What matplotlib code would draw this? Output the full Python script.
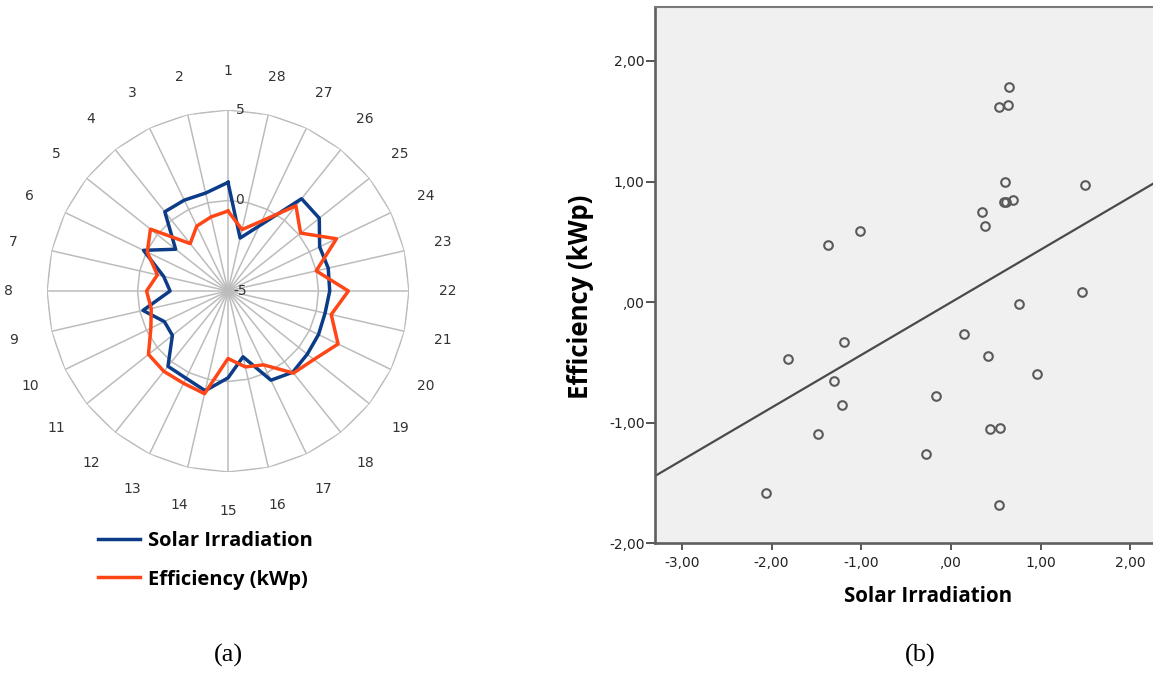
"""Daily solar irradiation vs. PV efficiency: radar profile and scatter with fit."""

import matplotlib.pyplot as plt
import numpy as np
from matplotlib.ticker import FuncFormatter

# Standardised daily values, one per day of the month (radar panel)
days = list(range(1, 29))
solar_irradiation = [
    1.00, 0.55, 0.57, 0.60, -1.30, 0.18, -1.35, -1.80, -0.18, -1.10,
    -1.07, 0.32, 0.35, 0.65, -0.20, -1.27, 0.47, 0.74, 0.60, 0.55,
    0.50, 0.62, 0.68, 0.62, 1.45, 1.52, -1.00, -2.00,
]
efficiency = [
    -0.58, -0.80, -1.02, -1.65, 0.48, -0.05, -1.00, -0.50, -0.65, -0.27,
    0.62, 0.68, 0.66, 0.82, -1.27, -0.70, -0.47, 0.80, 1.07, 1.75,
    0.85, 1.65, 0.00, 1.65, 0.13, 1.02, -0.71, -1.52,
]
radar_rings = [-5, 0, 5]

# Z-scores used in the scatter panel
scatter_irradiation = [
    0.648, 0.530, 0.636, 0.606, 1.499, 0.594, 0.615, 0.686, 0.349, 0.374,
    -1.366, -1.020, 1.457, 0.754, 0.142, -1.813, -1.189, 0.416, 0.960, -1.307,
    -0.165, -1.210, -1.488, 0.438, 0.542, -0.280, -2.061, 0.538,
]
scatter_efficiency = [
    1.783, 1.617, 1.633, 0.997, 0.969, 0.831, 0.831, 0.848, 0.751, 0.635,
    0.471, 0.591, 0.085, -0.018, -0.261, -0.472, -0.330, -0.450, -0.599, -0.654,
    -0.776, -0.853, -1.094, -1.052, -1.044, -1.260, -1.584, -1.683,
]
x_ticks = [-3, -2, -1, 0, 1, 2]
y_ticks = [-2, -1, 0, 1, 2]

BLUE = "#0c3c88"
ORANGE = "#ff4616"
GRID = "#bcbcbc"
BOLD = {"family": "Open Sans", "weight": "bold"}

plt.rcParams["font.family"] = ["DejaVu Sans"]


def comma_decimal(value, _pos=None):
    text = f"{value:.2f}".replace(".", ",")
    if text in ("0,00", "-0,00"):
        return ",00"
    return text


W, H = 1153, 674
fig = plt.figure(figsize=(W / 100, H / 100), dpi=100)

# --- radar panel -----------------------------------------------------------
radar = fig.add_axes([47 / W, 1 - 472 / H, 362 / W, 362 / H], projection="polar")
radar.set_theta_offset(np.pi / 2)
radar.set_ylim(radar_rings[0], radar_rings[-1])
radar.grid(False)
radar.spines["polar"].set_visible(False)
radar.set_xticks([])
radar.set_yticks([])

angles = np.arange(len(days)) * 2 * np.pi / len(days)
closed = np.append(angles, angles[0])
for ring in radar_rings[1:]:
    radar.plot(closed, [ring] * len(closed), color=GRID, lw=1.1, zorder=1)
for angle in angles:
    radar.plot([angle, angle], [radar_rings[0], radar_rings[-1]], color=GRID, lw=1.1, zorder=1)

(solar_line,) = radar.plot(closed, np.append(solar_irradiation, solar_irradiation[0]),
                           color=BLUE, lw=2.5, zorder=3)
(eff_line,) = radar.plot(closed, np.append(efficiency, efficiency[0]),
                         color=ORANGE, lw=2.5, zorder=4)

for angle, day in zip(angles, days):
    radar.text(angle, 7.15, str(day), ha="center", va="center", fontsize=10, color="#333333")
for ring in radar_rings:
    radar.annotate(str(ring), (0, ring), xytext=(8.6, 0), textcoords="offset points",
                   ha="center", va="center", fontsize=10, color="#333333", zorder=5)

fig.legend([solar_line, eff_line], ["Solar Irradiation", "Efficiency (kWp)"],
           loc="upper left", bbox_to_anchor=(98 / W, 1 - 531 / H), frameon=False,
           prop={**BOLD, "size": 14.5}, handlelength=2.1, handletextpad=0.4,
           labelspacing=0.92, borderpad=0, borderaxespad=0)

# --- scatter panel ---------------------------------------------------------
x_left, x_right = -3.30, 2.33
ax = fig.add_axes([655 / W, 1 - 543.3 / H, (1160 - 655) / W, (543.3 - 7.3) / H])
ax.set_facecolor("#f0f0f0")
ax.plot(scatter_irradiation, scatter_efficiency, "o", mfc="none", mec="#5a5a5a",
        ms=6.2, mew=1.5, zorder=3)

slope, intercept = np.polyfit(scatter_irradiation, scatter_efficiency, 1)
fit_x = np.array([x_left, x_right])
ax.plot(fit_x, slope * fit_x + intercept, color="#4a4a4a", lw=1.6, zorder=2)

ax.set_xlim(x_left, x_right)
ax.set_ylim(-2.0, 2.445)
ax.set_xticks(x_ticks)
ax.set_yticks(y_ticks)
ax.xaxis.set_major_formatter(FuncFormatter(comma_decimal))
ax.yaxis.set_major_formatter(FuncFormatter(comma_decimal))
ax.tick_params(axis="y", length=6.5, width=1.4, pad=1, color="#555555",
               labelsize=10, labelcolor="#222222")
ax.tick_params(axis="x", length=5, width=1.4, pad=4, color="#555555",
               labelsize=10, labelcolor="#222222")
for side in ("left", "bottom"):
    ax.spines[side].set_color("#5f5f5f")
    ax.spines[side].set_linewidth(1.9)
ax.spines["top"].set_color("#7a7a7a")
ax.spines["top"].set_linewidth(1.5)
ax.spines["right"].set_visible(False)

ax.set_xlabel("Solar Irradiation", fontsize=14.8, **BOLD)
ax.xaxis.set_label_coords((928 - 655) / 505, (543.3 - 586) / 536)
ax.set_ylabel("Efficiency (kWp)", fontsize=18.5, **BOLD)
ax.yaxis.set_label_coords((594 - 655) / 505, (543.3 - 297) / 536)

fig.text(228 / W, 1 - 655 / H, "(a)", ha="center", va="center",
         family="Liberation Serif", fontsize=19)
fig.text(920 / W, 1 - 655 / H, "(b)", ha="center", va="center",
         family="Liberation Serif", fontsize=19)

fig.savefig("out.png", dpi=100)
